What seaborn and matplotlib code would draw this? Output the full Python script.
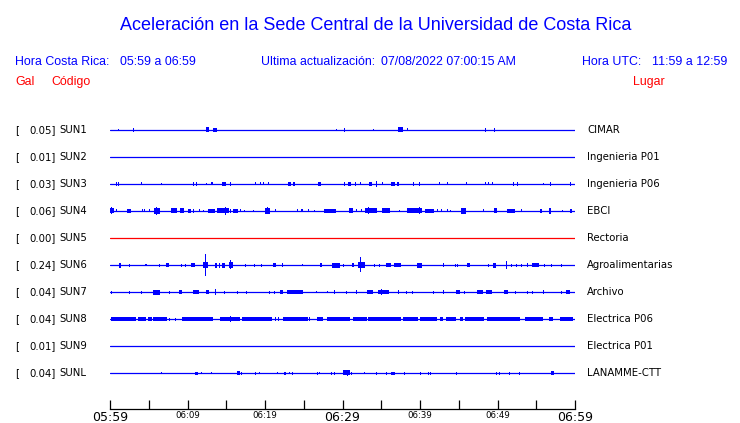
import matplotlib
matplotlib.use("Agg")
import matplotlib.pyplot as plt
import seaborn as sns
import pandas as pd

# ---------------- data ----------------
codes = ["SUN1", "SUN2", "SUN3", "SUN4", "SUN5", "SUN6", "SUN7", "SUN8", "SUN9", "SUNL"]
gals = [0.05, 0.01, 0.03, 0.06, 0.00, 0.24, 0.04, 0.04, 0.01, 0.04]
places = ["CIMAR", "Ingenieria P01", "Ingenieria P06", "EBCI", "Rectoria",
          "Agroalimentarias", "Archivo", "Electrica P06", "Electrica P01", "LANAMME-CTT"]
trace_colors = ["blue", "blue", "blue", "blue", "red", "blue", "blue", "blue", "blue", "blue"]

tick_minutes = [0, 5, 10, 15, 20, 25, 30, 35, 40, 45, 50, 55, 60]
tick_labels = ["05:59", "", "06:09", "", "06:19", "", "06:29", "", "06:39", "", "06:49", "", "06:59"]
big_labels = ["05:59", "06:29", "06:59"]

# bursts: (start minute, end minute, half amplitude in px)
sun1_bursts = [(1.07, 1.07, 1), (3.0, 3.0, 2), (12.4, 12.8, 2.5), (13.3, 13.8, 2),
               (29.2, 29.2, 1), (30.2, 30.2, 2), (34.0, 34.0, 1), (37.1, 37.8, 2.5),
               (38.4, 38.4, 1.5), (48.5, 48.5, 2), (49.6, 49.6, 2)]
sun2_bursts = []
sun3_bursts = [(0.86, 0.86, 2), (1.15, 1.15, 2), (4.0, 4.0, 1.5), (6.6, 6.6, 1),
               (10.75, 10.75, 2), (11.2, 11.2, 2), (12.4, 12.4, 1), (13.0, 13.3, 1.5),
               (14.5, 15.0, 2), (15.6, 15.6, 2), (16.0, 16.0, 1.5), (18.75, 18.75, 1.5),
               (19.4, 19.4, 1.5), (19.8, 19.8, 1.5), (20.4, 20.4, 1.5), (23.0, 23.3, 2),
               (23.6, 23.9, 2), (26.9, 27.2, 2), (30.2, 30.2, 2), (30.75, 31.05, 2),
               (31.6, 31.8, 2), (32.3, 32.3, 1.5), (33.45, 33.75, 2), (34.4, 34.4, 3),
               (35.2, 35.2, 1.5), (36.3, 36.8, 2), (37.0, 37.3, 2), (39.1, 39.1, 2),
               (39.9, 39.9, 2), (42.5, 42.5, 1.5), (43.6, 43.6, 1.5), (46.0, 46.0, 1.5),
               (48.4, 48.4, 1.5), (48.9, 48.9, 1.5), (49.3, 49.3, 1.5), (52.0, 52.0, 2),
               (52.6, 52.6, 2), (55.9, 55.9, 1), (56.8, 56.8, 2), (59.4, 59.4, 2)]
sun4_bursts = [(0.0, 0.5, 2.5), (0.2, 0.2, 3.5), (0.8, 0.8, 1.5), (2.2, 2.7, 2),
               (4.2, 4.2, 1.5), (4.5, 4.5, 1.5), (5.1, 5.1, 1.5), (5.7, 6.4, 3),
               (6.0, 6.0, 4), (7.9, 8.6, 2.5), (9.0, 9.5, 2.5), (10.1, 10.4, 2),
               (10.8, 10.8, 2), (11.5, 11.5, 1.5), (12.0, 12.0, 1), (12.7, 13.5, 2),
               (13.8, 15.3, 2.5), (14.9, 14.9, 4), (15.6, 15.6, 2), (15.9, 16.5, 2),
               (16.9, 16.9, 1.5), (17.3, 17.3, 1), (18.5, 18.5, 1), (20.0, 20.6, 3),
               (20.3, 20.3, 3.5), (21.4, 21.4, 1.5), (24.2, 24.2, 1.5), (24.7, 24.7, 1.5),
               (24.9, 24.9, 1.5), (25.6, 25.6, 1.5), (26.4, 26.4, 1), (27.6, 29.2, 2),
               (30.9, 31.3, 2.5), (31.8, 31.8, 1.5), (32.5, 32.5, 1.5), (32.9, 34.5, 2.5),
               (33.4, 33.4, 3.5), (35.1, 36.1, 2.5), (37.3, 37.3, 1), (38.3, 40.3, 2.5),
               (39.9, 39.9, 3.5), (40.6, 41.8, 2), (42.2, 42.2, 1.5), (42.8, 42.8, 1.5),
               (43.5, 43.5, 1.5), (43.9, 43.9, 1), (45.3, 45.9, 3), (48.2, 48.2, 1.5),
               (49.5, 49.9, 2.5), (51.2, 52.3, 2), (53.1, 53.1, 1.5), (55.5, 55.7, 2),
               (56.7, 56.9, 3), (58.4, 58.4, 1), (59.3, 59.6, 2)]
sun5_bursts = []
sun6_bursts = [(1.2, 1.4, 2.5), (2.5, 2.5, 1.5), (4.5, 4.8, 1), (6.4, 6.4, 1.5),
               (7.2, 7.6, 2), (9.25, 9.25, 1.5), (9.7, 9.7, 1.5), (10.5, 11.0, 2),
               (12.0, 12.7, 3), (12.3, 12.3, 11), (13.5, 13.8, 2.5), (14.0, 14.2, 2.5),
               (14.4, 14.8, 2.5), (15.4, 15.9, 3), (15.5, 15.5, 4.5), (17.5, 17.5, 1.5),
               (18.7, 18.7, 1.5), (19.5, 19.5, 1.5), (21.0, 21.4, 2), (22.3, 22.3, 2),
               (24.8, 24.8, 1), (27.1, 27.4, 2), (28.7, 29.7, 2.5), (30.1, 30.1, 1.5),
               (31.2, 31.5, 2), (32.0, 32.9, 3), (32.3, 32.3, 7.5), (34.1, 34.1, 1.5),
               (34.75, 34.75, 1.5), (35.6, 36.3, 2), (36.6, 37.6, 2), (39.65, 40.2, 2.5),
               (43.0, 43.0, 2), (44.6, 44.6, 1.5), (44.9, 44.9, 1.5), (46.0, 46.45, 2),
               (48.8, 48.8, 1.5), (49.4, 49.8, 2.5), (51.1, 51.1, 4), (51.8, 51.8, 1.5),
               (52.5, 52.5, 1.5), (53.1, 53.1, 1.5), (53.9, 53.9, 2), (54.5, 55.3, 2),
               (56.1, 56.1, 1.5), (57.0, 57.0, 1.5), (58.3, 58.3, 1.5)]
sun7_bursts = [(0.1, 0.25, 1.5), (2.5, 2.5, 1.5), (4.1, 4.1, 1.5), (5.6, 6.4, 2.5),
               (7.7, 7.7, 1.5), (8.9, 9.25, 2), (10.75, 11.5, 2), (12.4, 12.8, 2),
               (13.6, 13.6, 3), (14.8, 14.8, 1.5), (16.0, 16.0, 1.5), (16.5, 16.5, 1.5),
               (17.6, 17.6, 1.5), (20.6, 20.6, 1.5), (21.2, 21.2, 1.5), (21.9, 22.3, 2),
               (22.9, 24.85, 2), (26.7, 26.7, 1), (28.0, 28.0, 1), (29.0, 29.0, 2),
               (30.5, 30.5, 1.5), (31.8, 31.8, 2), (33.1, 33.9, 2), (34.6, 36.0, 2),
               (35.0, 35.0, 3), (37.2, 37.2, 2), (38.3, 38.3, 1.5), (39.0, 39.0, 1.5),
               (41.7, 41.7, 1.5), (43.0, 43.0, 2), (44.7, 45.1, 2), (45.8, 45.8, 1.5),
               (47.4, 48.1, 2), (48.5, 49.25, 2), (50.9, 51.4, 2), (52.3, 52.3, 1.5),
               (53.9, 53.9, 1.5), (54.5, 54.5, 1.5), (55.9, 55.9, 2), (58.2, 58.2, 1.5),
               (58.9, 59.35, 2)]
sun8_bursts = [(0.1, 3.4, 2), (3.65, 4.7, 2), (4.95, 5.4, 2), (5.6, 7.3, 2),
               (7.7, 7.7, 1.5), (8.5, 8.5, 1.5), (9.25, 13.3, 2), (14.2, 16.8, 2),
               (15.6, 15.6, 3), (17.0, 17.85, 2), (17.85, 20.85, 2), (21.3, 21.3, 2),
               (21.7, 21.7, 2), (22.3, 25.6, 2), (25.8, 25.8, 2), (26.7, 27.5, 2),
               (28.0, 31.0, 2), (31.4, 33.1, 2), (33.3, 37.6, 2), (37.85, 39.8, 2),
               (40.0, 42.15, 2), (42.6, 43.0, 2), (43.4, 44.7, 2), (45.2, 45.6, 2),
               (45.8, 48.2, 2), (48.6, 52.9, 2), (53.5, 55.9, 2), (56.6, 57.2, 2),
               (58.1, 59.8, 2)]
sun9_bursts = []
sunl_bursts = [(6.6, 6.6, 1), (11.0, 11.4, 1.5), (11.8, 11.8, 1), (13.1, 13.1, 1),
               (16.35, 16.8, 2), (17.0, 17.0, 1.5), (18.8, 18.8, 1.5), (19.35, 19.35, 1),
               (21.6, 21.6, 1), (22.5, 22.7, 1.5), (23.1, 23.1, 1), (23.6, 23.6, 1.5),
               (26.8, 26.8, 1.5), (27.0, 27.0, 1), (28.6, 28.6, 1.5), (28.95, 28.95, 1.5),
               (30.0, 31.0, 2.5), (30.6, 30.6, 3), (31.2, 31.2, 1.5), (32.8, 32.8, 1),
               (34.4, 34.4, 1.5), (35.7, 35.7, 1.5), (36.3, 36.8, 1.5), (38.0, 38.0, 1.5),
               (40.1, 40.1, 1.5), (41.1, 41.1, 1.5), (41.3, 41.3, 1.5), (44.7, 44.7, 1.5),
               (49.9, 49.9, 1.5), (50.3, 50.3, 1.5), (51.5, 51.5, 1.5), (52.8, 52.8, 1.5),
               (56.9, 57.3, 2)]
all_bursts = [sun1_bursts, sun2_bursts, sun3_bursts, sun4_bursts, sun5_bursts,
              sun6_bursts, sun7_bursts, sun8_bursts, sun9_bursts, sunl_bursts]

# ---------------- figure ----------------
sns.set_theme(style="white")
plt.rcParams["font.family"] = ["DejaVu Sans"]

W, H = 740, 423
fig = plt.figure(figsize=(W / 100, H / 100), dpi=100)
fig.patch.set_facecolor("white")

x0, x1 = 110, 575
y_top, y_axis = 115, 409
row0, row_step = 130, 27
ax = fig.add_axes([x0 / W, 1 - y_axis / H, (x1 - x0) / W, (y_axis - y_top) / H])
ax.set_facecolor("white")

n = len(codes)
ax.set_xlim(0, 60)
ax.set_ylim((y_axis - row0) / row_step, -(row0 - y_top) / row_step)

px_per_min = (x1 - x0) / 60.0
line_df = pd.DataFrame({
    "minute": [0, 60] * n,
    "row": [i for i in range(n) for _ in range(2)],
    "station": [c for c in codes for _ in range(2)],
})
sns.lineplot(data=line_df, x="minute", y="row", hue="station",
             palette=dict(zip(codes, trace_colors)), legend=False,
             linewidth=0.9, ax=ax, estimator=None, sort=False)

for i, bursts in enumerate(all_bursts):
    for (s, e, a) in bursts:
        w = max(e - s, 1.0 / px_per_min)
        c = (s + e) / 2.0
        h = a / row_step
        ax.bar(c, 2 * h, width=w, bottom=i - h, color=trace_colors[i],
               linewidth=0, align="center")

for side in ["left", "top", "right"]:
    ax.spines[side].set_visible(False)
ax.spines["bottom"].set_color("black")
ax.spines["bottom"].set_linewidth(0.9)
ax.set_xlabel("")
ax.set_ylabel("")
ax.set_yticks([])
ax.set_xticks(tick_minutes)
ax.set_xticklabels(tick_labels)
ax.tick_params(axis="x", direction="in", length=6.5, width=0.9, color="black",
               pad=1.5, bottom=True, labelcolor="black")
for lab in ax.get_xticklabels():
    if lab.get_text() in big_labels:
        lab.set_fontsize(9)
    else:
        lab.set_fontsize(6.2)

# ---------------- texts ----------------
def ftext(x, y, s, **kw):
    fig.text(x / W, 1 - y / H, s, **kw)

hdr = dict(family="Liberation Sans", va="baseline")
ftext(376, 29.7, "Aceleración en la Sede Central de la Universidad de Costa Rica",
      ha="center", fontsize=13, color="#0000ff", **hdr)
ftext(15, 65.3, "Hora Costa Rica:", ha="left", fontsize=8.9, color="#0000ff", **hdr)
ftext(120, 65.3, "05:59 a 06:59", ha="left", fontsize=8.9, color="#0000ff", **hdr)
ftext(261, 65.3, "Ultima actualización:", ha="left", fontsize=8.9, color="#0000ff", **hdr)
ftext(381, 65.3, "07/08/2022 07:00:15 AM", ha="left", fontsize=8.9, color="#0000ff", **hdr)
ftext(582, 65.3, "Hora UTC:", ha="left", fontsize=8.9, color="#0000ff", **hdr)
ftext(652, 65.3, "11:59 a 12:59", ha="left", fontsize=8.9, color="#0000ff", **hdr)
ftext(15, 84.7, "Gal", ha="left", fontsize=8.9, color="#ff0000", **hdr)
ftext(51, 84.7, "Código", ha="left", fontsize=8.9, color="#ff0000", **hdr)
ftext(633, 84.7, "Lugar", ha="left", fontsize=8.9, color="#ff0000", **hdr)

for i in range(n):
    y = row0 + row_step * i
    ftext(15, y, "[", ha="left", va="center", fontsize=7.3, color="black")
    ftext(55.5, y, f"{gals[i]:.2f}]", ha="right", va="center", fontsize=7.3, color="black")
    ftext(59, y, codes[i], ha="left", va="center", fontsize=7.3, color="black")
    ftext(587, y, places[i], ha="left", va="center", fontsize=7.3, color="black")

fig.savefig("out.png", dpi=100, facecolor="white")
